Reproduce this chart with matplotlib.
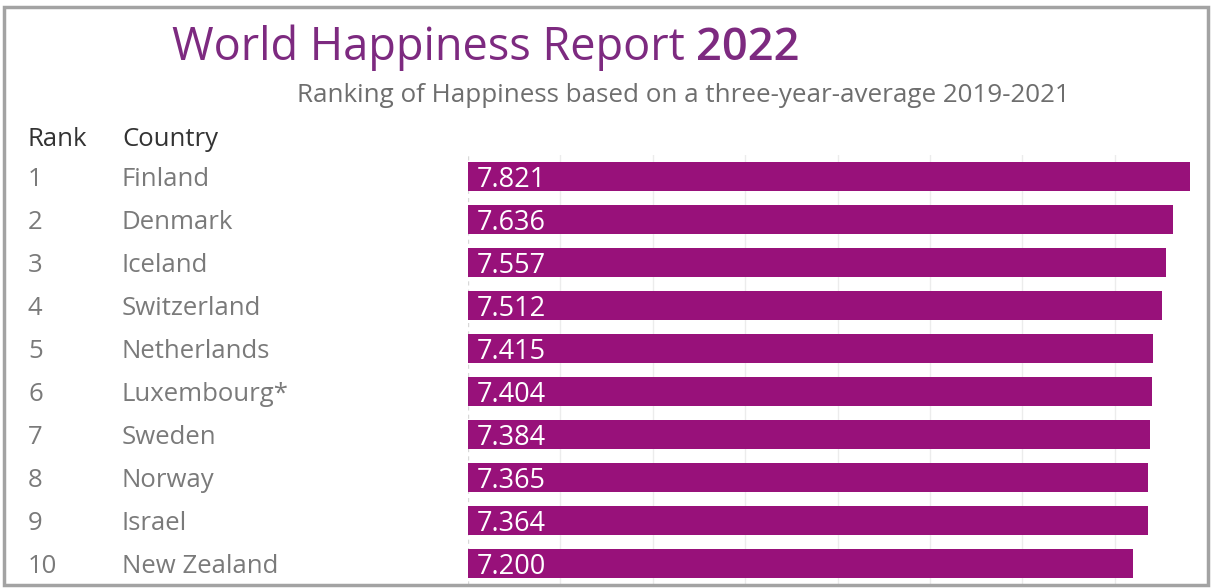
import matplotlib.pyplot as plt
from matplotlib import transforms
from matplotlib.patches import Rectangle

ranks = [1, 2, 3, 4, 5, 6, 7, 8, 9, 10]
countries = ["Finland", "Denmark", "Iceland", "Switzerland", "Netherlands",
             "Luxembourg*", "Sweden", "Norway", "Israel", "New Zealand"]
scores = [7.821, 7.636, 7.557, 7.512, 7.415, 7.404, 7.384, 7.365, 7.364, 7.200]

BAR = "#98117a"
TITLE = "#7d2a80"
FONT = "Open Sans"

plt.rcParams["font.family"] = [FONT, "DejaVu Sans"]

W, H = 1213, 588
fig = plt.figure(figsize=(W / 100, H / 100), dpi=100)
fig.patch.set_facecolor("white")

ax = fig.add_axes([468 / W, 1 - 585 / H, (1207 - 468) / W, 430 / H])
y = list(range(len(scores)))
ax.barh(y, scores, height=0.66, color=BAR, zorder=2)
ax.set_xlim(0, 8.0)
ax.set_ylim(len(scores) - 0.5, -0.5)
for gx in range(1, 8):
    ax.axvline(gx, color="#ececec", lw=1, zorder=1)
ax.axvline(0, color="#d8d8d8", lw=1, ls=(0, (3, 3)), zorder=1)
ax.set_xticks([])
ax.set_yticks([])
for s in ax.spines.values():
    s.set_visible(False)

for i, v in enumerate(scores):
    ax.annotate(f"{v:.3f}", xy=(0, i), xytext=(6.5, 0), textcoords="offset points",
                color="white", fontsize=19.5, va="center_baseline", ha="left", zorder=3)

# row labels on the left
tr = transforms.blended_transform_factory(fig.transFigure, ax.transData)
for i, (r, c) in enumerate(zip(ranks, countries)):
    fig.text(28 / W, i, str(r), transform=tr, fontsize=18.5, color="#7a7a7a",
             va="center_baseline", ha="left")
    fig.text(122 / W, i, c, transform=tr, fontsize=18.5, color="#7a7a7a",
             va="center_baseline", ha="left")

fig.text(28 / W, 1 - 137 / H, "Rank", fontsize=18.5, color="#333333", va="center_baseline")
fig.text(122 / W, 1 - 137 / H, "Country", fontsize=18.5, color="#333333", va="center_baseline")

# title with bold year
t1 = fig.text(172 / W, 1 - 60 / H, "World Happiness Report ", fontsize=32.5,
              color=TITLE, va="baseline", ha="left")
fig.canvas.draw()
bb = t1.get_window_extent()
fig.text(bb.x1 / W, 1 - 60 / H, "2022", fontsize=32.5, color=TITLE,
         fontweight=600, va="baseline", ha="left")

fig.text(297 / W, 1 - 102 / H, "Ranking of Happiness based on a three-year-average 2019-2021",
         fontsize=18.7, color="#6e6e6e", va="baseline", ha="left")

# outer frame
fig.patches.append(Rectangle((4 / W, 1 - 585 / H), 1204 / W, 578 / H,
                             transform=fig.transFigure, fill=False,
                             edgecolor="#a3a3a3", lw=2.5, zorder=10))

fig.savefig("out.png", dpi=100)
